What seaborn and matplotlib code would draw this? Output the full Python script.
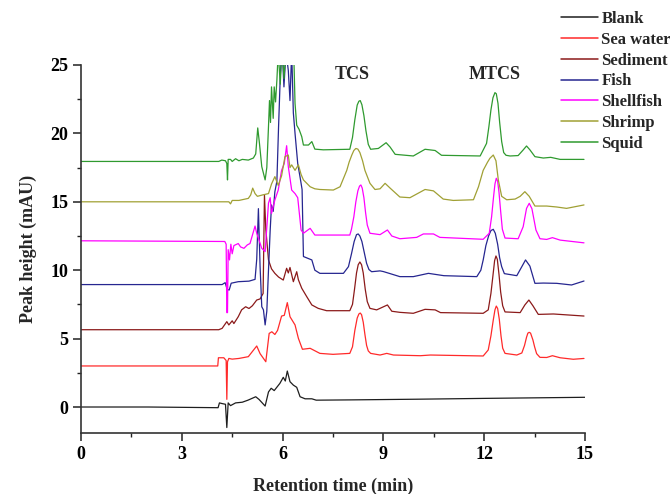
import matplotlib
matplotlib.use("Agg")
import matplotlib.pyplot as plt
from matplotlib.ticker import MultipleLocator
import seaborn as sns
import pandas as pd

# ---------------- data (retention time in min, peak height in mAU) ----------------
sample_names = ["Blank", "Sea water", "Sediment", "Fish", "Shellfish", "Shrimp", "Squid"]
sample_colors = ["#1e1e1e", "#ff2a2a", "#8b1a1a", "#262690", "#ff00ff", "#a0a034", "#2f9a2f"]

blank_t = [0, 2, 4.08, 4.12, 4.2, 4.3, 4.34, 4.38, 4.45, 4.6, 4.8, 4.97, 5.2, 5.3, 5.48, 5.58,
           5.66, 5.75, 5.92, 6.02, 6.08, 6.14, 6.22, 6.32, 6.42, 6.52, 6.67, 6.87, 7.0, 8, 10, 12, 15]
blank_v = [0, 0, -0.05, 0.3, 0.25, 0.2, -1.5, 0.3, 0.1, 0.3, 0.35, 0.5, 0.75, 0.55, 0.07, 1.1,
           1.37, 1.2, 1.73, 2.17, 1.9, 2.63, 1.85, 1.6, 1.44, 0.75, 0.6, 0.6, 0.5, 0.52, 0.57, 0.63, 0.71]

seawater_t = [0, 4.07, 4.09, 4.25, 4.32, 4.34, 4.36, 4.4, 4.5, 4.7, 4.98, 5.23, 5.33, 5.5, 5.6, 5.68,
              5.77, 5.85, 5.97, 6.05, 6.14, 6.22, 6.37, 6.47, 6.59, 6.82, 7.11, 7.5, 8.0, 8.08, 8.15,
              8.22, 8.27, 8.31, 8.35, 8.4, 8.45, 8.5, 8.55, 8.62, 8.9, 9.1, 9.3, 10.1, 10.4, 11.97,
              12.12, 12.2, 12.27, 12.32, 12.36, 12.4, 12.45, 12.5, 12.55, 12.62, 12.97, 13.12,
              13.2, 13.26, 13.3, 13.34, 13.38, 13.45, 13.5, 13.56, 13.66, 13.86, 14.03, 14.26,
              14.65, 14.97]
seawater_v = [3.0, 3.0, 3.6, 3.6, 3.4, 0.56, 3.3, 3.55, 3.5, 3.55, 3.68, 4.46, 3.9, 3.31, 5.38, 5.5,
              5.3, 5.6, 6.65, 6.7, 7.63, 6.6, 6.0, 5.02, 4.22, 4.29, 3.92, 3.85, 3.92, 4.4, 5.6,
              6.5, 6.8, 6.87, 6.75, 6.2, 5.3, 4.5, 4.1, 3.92, 3.8, 3.92, 3.8, 3.75, 3.8, 3.73,
              4.17, 5.2, 6.36, 7.1, 7.38, 7.2, 6.4, 5.2, 4.3, 3.92, 3.8, 3.95,
              4.5, 5.1, 5.4, 5.46, 5.4, 4.9, 4.4, 3.9, 3.63, 3.62, 3.75, 3.6,
              3.49, 3.55]

sediment_t = [0, 4.1, 4.2, 4.34, 4.4, 4.5, 4.55, 4.68, 4.78, 4.9, 5.0, 5.1, 5.23, 5.33, 5.42, 5.46,
              5.5, 5.58, 5.67, 5.77, 5.88, 6.02, 6.12, 6.17, 6.22, 6.32, 6.42, 6.47, 6.57, 6.72,
              6.87, 7.06, 7.31, 8.0, 8.08, 8.14, 8.2, 8.25, 8.3, 8.35, 8.4, 8.46, 8.52, 8.6, 8.8,
              9.12, 9.25, 9.49, 9.89, 10.24, 10.54, 10.7, 11.97, 12.12, 12.2, 12.26, 12.31, 12.35,
              12.39, 12.44, 12.49, 12.55, 12.62, 13.07, 13.21, 13.33, 13.45, 13.61, 14.06, 14.97]
sediment_v = [5.65, 5.65, 5.75, 6.24, 6.0, 6.3, 6.1, 6.6, 7.1, 7.33, 7.2, 7.4, 7.82, 7.9, 8.3, 15.5,
              13.0, 10.75, 10.1, 9.77, 9.5, 9.28, 10.14, 9.8, 10.2, 9.16, 9.89, 9.3, 8.68, 8.06,
              7.46, 7.21, 7.04, 7.04, 7.5, 8.6, 9.8, 10.4, 10.6, 10.4, 9.8, 8.6, 7.7, 7.21, 7.1,
              7.46, 7.0, 6.92, 6.85, 7.14, 7.1, 6.9, 6.85, 7.1, 8.3, 9.6, 10.7, 11.04,
              10.8, 9.7, 8.4, 7.4, 6.95, 6.9, 7.46, 7.82, 7.4, 6.77, 6.8, 6.65]

fish_t = [0, 4.2, 4.29, 4.35, 4.41, 4.47, 4.68, 5.0, 5.18, 5.23, 5.28, 5.33, 5.38, 5.43, 5.48,
          5.53, 5.58, 5.63, 5.67, 5.72, 5.77, 5.83, 5.88, 5.93, 5.98, 6.04, 6.1, 6.17, 6.22, 6.27,
          6.32, 6.37, 6.45, 6.52, 6.58, 6.62, 6.72, 6.87, 6.96, 7.11, 7.81, 7.96, 8.05, 8.13, 8.2,
          8.25, 8.3, 8.36, 8.43, 8.5, 8.57, 8.65, 8.9, 9.0, 9.2, 9.49, 9.89, 10.34, 10.8, 11.78,
          11.9, 11.97, 12.05, 12.13, 12.2, 12.27, 12.33, 12.4, 12.46, 12.52, 12.6, 12.97, 13.12,
          13.23, 13.36, 13.51, 13.76, 14.16, 14.6, 14.97]
fish_v = [8.95, 8.95, 9.09, 8.6, 8.55, 9.05, 9.16, 9.2, 9.33, 10.8, 14.5, 10.26, 7.33, 7.1, 6.0,
          7.0, 10.0, 12.9, 14.77, 14.3, 15.74, 16.5, 20.5, 24.1, 26.5, 23.4, 26.0, 24.6, 22.4, 26.0,
          21.5, 20.0, 17.8, 16.8, 15.9, 11.0, 10.9, 10.75, 10.0, 9.77, 9.77, 10.26, 11.2, 12.1, 12.6,
          12.65, 12.5, 12.1, 11.3, 10.5, 10.05, 9.89, 9.95, 9.9, 9.75, 9.53, 9.53, 9.77, 9.6, 9.53,
          10.0, 10.75, 11.8, 12.5, 12.9, 12.99, 12.7, 11.9, 10.9, 10.26, 9.75, 9.6, 10.26,
          10.75, 10.3, 9.04, 9.06, 9.04, 8.92, 9.21]

shellfish_t = [0, 4.28, 4.32, 4.34, 4.36, 4.38, 4.42, 4.46, 4.5, 4.55, 4.68, 4.75, 4.85, 4.95, 5.03,
               5.18, 5.23, 5.38, 5.48, 5.58, 5.63, 5.67, 5.77, 5.87, 5.97, 6.05, 6.12, 6.17, 6.27,
               6.37, 6.45, 6.55, 6.62, 6.82, 6.96, 7.11, 8.0, 8.05, 8.12, 8.18, 8.24, 8.29, 8.33,
               8.37, 8.42, 8.47, 8.52, 8.6, 8.9, 9.12, 9.25, 9.49, 9.99, 10.19, 10.49, 10.68, 11.97,
               12.15, 12.22, 12.28, 12.32, 12.36, 12.4, 12.44, 12.49, 12.54, 12.62, 13.01, 13.16,
               13.26, 13.34, 13.42, 13.54, 13.66, 13.86, 14.03, 14.26, 14.97]
shellfish_v = [12.15, 12.1, 11.9, 6.9, 6.9, 11.5, 10.75, 11.9, 11.2, 11.8, 11.95, 11.7, 11.6, 11.85, 11.95,
               13.23, 12.7, 11.6, 11.36, 14.9, 15.3, 14.15, 15.13, 15.86, 17.3, 17.8, 19.1, 17.57, 15.86,
               15.6, 15.3, 12.94, 12.7, 13.06, 12.57, 12.57, 12.57, 13.0, 13.9, 15.0, 15.8, 16.15, 16.23,
               16.0, 15.3, 14.2, 13.3, 12.7, 12.6, 12.94, 12.5, 12.3, 12.4, 12.65, 12.65, 12.4, 12.26,
               12.7, 13.9, 15.4, 16.3, 16.72, 16.5, 15.7, 14.3, 13.0, 12.35, 12.3, 13.18,
               14.52, 14.89, 14.5, 12.94, 12.3, 12.25, 12.38, 12.2, 12.0]

shrimp_t = [0, 4.4, 4.45, 4.5, 4.7, 4.98, 5.05, 5.11, 5.18, 5.25, 5.4, 5.58, 5.67, 5.77, 5.87, 5.97,
            6.07, 6.17, 6.22, 6.27, 6.37, 6.47, 6.55, 6.62, 6.82, 6.96, 7.11, 7.51, 7.71, 7.91, 7.98,
            8.06, 8.12, 8.18, 8.24, 8.3, 8.38, 8.45, 8.6, 8.75, 8.9, 9.05, 9.2, 9.49, 9.79, 10.24,
            10.49, 10.78, 11.08, 11.68, 11.83, 11.97, 12.1, 12.17, 12.27, 12.35, 12.42, 12.52,
            12.67, 12.92, 13.07, 13.21, 13.34, 13.51, 13.86, 14.16, 14.45, 14.97]
shrimp_v = [15.0, 15.0, 14.85, 15.1, 15.1, 15.25, 15.5, 16.0, 15.6, 15.4, 15.5, 15.6, 16.3, 16.84, 16.2, 16.9,
            18.3, 18.42, 17.5, 17.7, 17.3, 17.7, 17.0, 16.6, 16.1, 15.95, 15.9, 15.86, 16.1, 17.3, 17.9,
            18.42, 18.75, 18.9, 18.85, 18.6, 18.0, 17.3, 16.35, 15.9, 15.95, 16.35, 16.0, 15.35, 15.3, 15.9,
            15.8, 15.2, 15.1, 15.15, 16.1, 17.3, 17.9, 18.18, 18.42, 18.0, 16.6, 15.4,
            15.15, 15.2, 15.4, 15.74, 15.4, 14.69, 14.69, 14.62, 14.52, 14.77]

squid_t = [0, 4.1, 4.19, 4.3, 4.34, 4.36, 4.38, 4.45, 4.5, 4.6, 4.7, 4.8, 4.98, 5.13, 5.2, 5.26,
           5.31, 5.38, 5.48, 5.53, 5.58, 5.61, 5.64, 5.67, 5.72, 5.75, 5.79, 5.83, 5.87, 5.93, 5.99,
           6.04, 6.1, 6.2, 6.33, 6.37, 6.42, 6.49, 6.57, 6.62, 6.77, 6.87, 6.96, 7.21, 8.0, 8.08,
           8.15, 8.22, 8.27, 8.31, 8.36, 8.42, 8.48, 8.55, 8.62, 8.85, 9.08, 9.2, 9.35, 9.89, 10.24,
           10.54, 10.73, 11.88, 12.07, 12.14, 12.2, 12.26, 12.32, 12.36, 12.41, 12.46, 12.52,
           12.58, 12.65, 12.77, 13.01, 13.16, 13.26, 13.36, 13.51, 13.76, 13.98, 14.26, 14.97]
squid_v = [17.95, 17.95, 18.05, 18.0, 17.8, 16.6, 18.1, 18.1, 17.95, 18.15, 18.0, 18.1, 18.05, 18.2, 18.5, 20.4,
           19.3, 17.57, 16.6, 17.5, 20.5, 22.4, 20.8, 23.4, 21.1, 23.4, 22.3, 23.9, 26.0, 23.6, 26.5,
           24.0, 26.0, 26.5, 26.0, 22.2, 20.6, 20.3, 19.76, 19.15, 19.15, 19.4, 18.85, 18.8, 18.84, 19.7,
           21.0, 22.07, 22.35, 22.4, 22.1, 21.3, 20.2, 19.2, 18.84, 18.9, 19.32, 19.0, 18.47, 18.35, 18.84,
           18.75, 18.4, 18.35, 19.27, 20.5, 21.71, 22.6, 22.98, 22.9, 22.2, 20.8, 19.4,
           18.6, 18.4, 18.35, 18.38, 18.79, 19.08, 18.8, 18.3, 18.2, 18.25, 18.1, 18.1]

peak_labels = ["TCS", "MTCS"]
peak_label_t = [8.07, 12.3]
peak_label_v = [24.3, 24.3]

x_ticks = [0, 3, 6, 9, 12, 15]
y_ticks = [0, 5, 10, 15, 20, 25]

series_t = [blank_t, seawater_t, sediment_t, fish_t, shellfish_t, shrimp_t, squid_t]
series_v = [blank_v, seawater_v, sediment_v, fish_v, shellfish_v, shrimp_v, squid_v]

frames = []
for name, tt, vv in zip(sample_names, series_t, series_v):
    frames.append(pd.DataFrame({"time": tt, "value": vv, "sample": name}))
df = pd.concat(frames, ignore_index=True)

# ---------------- style ----------------
sns.set_style("ticks")
plt.rcParams["font.family"] = ["Liberation Serif", "DejaVu Serif"]
plt.rcParams["font.weight"] = "bold"
plt.rcParams["axes.labelweight"] = "bold"

fig = plt.figure(figsize=(6.7, 4.94), dpi=100)
ax = fig.add_axes([81 / 670, 1 - 433 / 494, 504 / 670, 368 / 494])

sns.lineplot(data=df, x="time", y="value", hue="sample", hue_order=sample_names,
             palette=sample_colors, estimator=None, sort=False, units="sample",
             linewidth=0.9, ax=ax)

ax.set_xlim(0, 15)
ax.set_ylim(-1.9, 25)
ax.set_xticks(x_ticks)
ax.set_yticks(y_ticks)
ax.xaxis.set_minor_locator(MultipleLocator(1.5))
ax.yaxis.set_minor_locator(MultipleLocator(2.5))
ax.tick_params(which="major", direction="out", length=5.5, width=1.1, labelsize=13, colors="#222222")
ax.tick_params(which="minor", direction="out", length=3, width=1.0, colors="#222222")
for lab in ax.get_xticklabels() + ax.get_yticklabels():
    lab.set_fontweight("bold")
    lab.set_color("black")
for s in ["top", "right"]:
    ax.spines[s].set_visible(False)
for s in ["left", "bottom"]:
    ax.spines[s].set_linewidth(1.2)
    ax.spines[s].set_color("#333333")

ax.set_xlabel("Retention time (min)", fontsize=13, fontweight="bold", labelpad=11)
ax.set_ylabel("Peak height (mAU)", fontsize=13, fontweight="bold", labelpad=10)

for lbl, tx, ty in zip(peak_labels, peak_label_t, peak_label_v):
    ax.text(tx, ty, lbl, ha="center", va="center", fontsize=13, fontweight="bold")

sns.move_legend(ax, "upper left", bbox_to_anchor=(0.94, 1.165), frameon=False, title=None,
                fontsize=12, handlelength=2.2, handletextpad=0.2, labelspacing=0.29,
                borderaxespad=0)
for line in ax.get_legend().get_lines():
    line.set_linewidth(1.1)
for t in ax.get_legend().get_texts():
    t.set_fontweight("bold")

fig.savefig("out.png", dpi=100)
